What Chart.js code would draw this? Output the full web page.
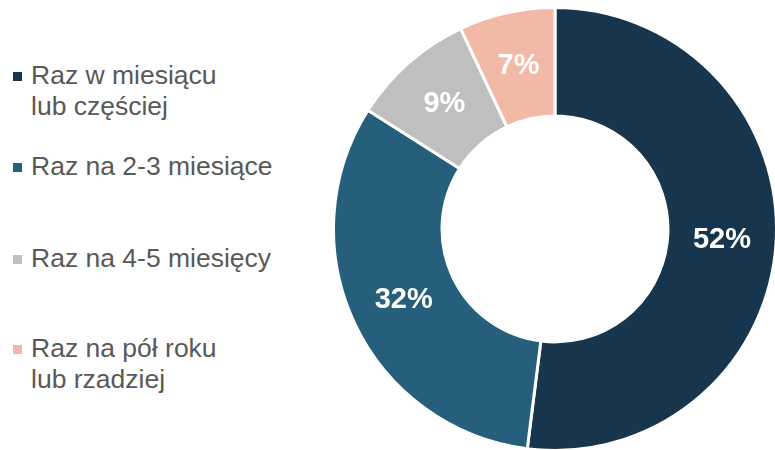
<!DOCTYPE html>
<html>
<head>
<meta charset="utf-8">
<script src="https://cdn.jsdelivr.net/npm/chart.js@4/dist/chart.umd.min.js"></script>
<style>
  html, body { margin: 0; padding: 0; background: #fff; }
  #wrap { position: relative; width: 775px; height: 450px; overflow: hidden; font-family: "Liberation Sans", Arial, sans-serif; }
  #chartBox { position: absolute; left: 332px; top: 6px; width: 446px; height: 446px; }
  .item { position: absolute; left: 31px; font-size: 26.5px; line-height: 31px; color: #595959; white-space: nowrap; }
  .item .box { position: absolute; left: -18px; top: 12px; width: 9px; height: 9px; }
</style>
</head>
<body>
<div id="wrap">
  <div id="legend"></div>
  <div id="chartBox"><canvas id="doughnut"></canvas></div>
</div>
<script>
const labels = [
  ['Raz w miesiącu', 'lub częściej'],
  ['Raz na 2-3 miesiące'],
  ['Raz na 4-5 miesięcy'],
  ['Raz na pół roku', 'lub rzadziej']
];
const values = [52, 32, 9, 7];
const colors = ['#17364d', '#265f7c', '#bfbfbf', '#f2b9a6'];

// legend on the left, one block per slice
const legendTops = [60, 151, 243, 333];
const legendEl = document.getElementById('legend');
labels.forEach((lines, i) => {
  const d = document.createElement('div');
  d.className = 'item';
  d.style.top = legendTops[i] + 'px';
  d.innerHTML = '<span class="box" style="background:' + colors[i] + '"></span>' + lines.join('<br>');
  legendEl.appendChild(d);
});

const sliceLabels = {
  id: 'sliceLabels',
  afterDatasetsDraw(chart) {
    const c = chart.ctx;
    const meta = chart.getDatasetMeta(0);
    c.save();
    c.fillStyle = '#fff';
    c.font = 'bold 29px "Liberation Sans", Arial, sans-serif';
    c.textAlign = 'center';
    c.textBaseline = 'middle';
    meta.data.forEach((arc, i) => {
      const p = arc.tooltipPosition();
      c.fillText(values[i] + '%', p.x, p.y);
    });
    c.restore();
  }
};

const ctx = document.getElementById('doughnut');
new Chart(ctx, {
  type: 'doughnut',
  data: {
    labels: labels.map(l => l.join(' ')),
    datasets: [{
      data: values,
      backgroundColor: colors,
      borderColor: '#fff',
      borderWidth: 3
    }]
  },
  options: {
    responsive: true,
    maintainAspectRatio: false,
    animation: false,
    cutout: '51%',
    plugins: {
      legend: { display: false },
      tooltip: { enabled: false }
    }
  },
  plugins: [sliceLabels]
});
</script>
</body>
</html>
